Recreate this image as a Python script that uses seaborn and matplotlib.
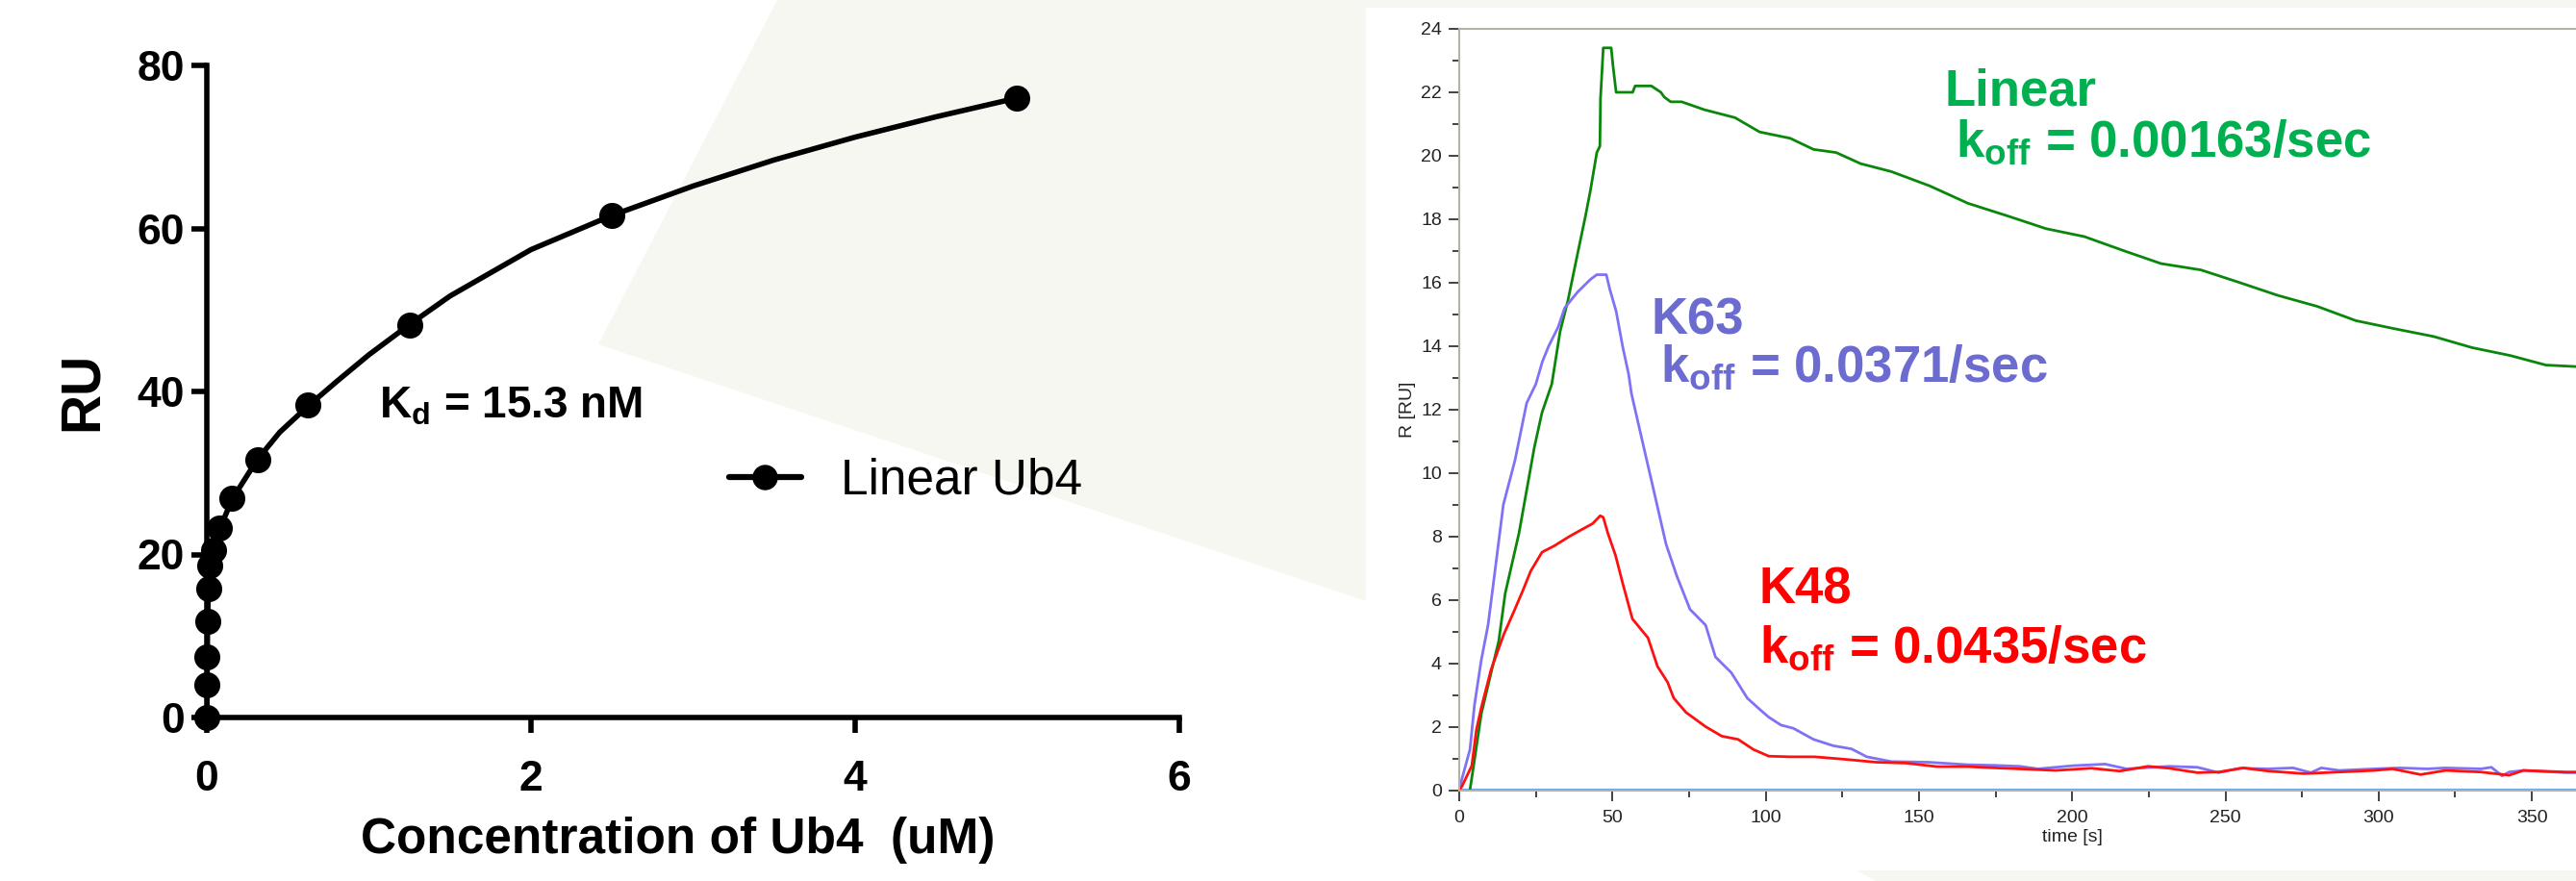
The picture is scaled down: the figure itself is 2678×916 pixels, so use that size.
#!/usr/bin/env python3

"""Ub4 binding curve (left) and SPR sensorgrams for Linear / K63 / K48 Ub4 (right)."""

import pandas as pd
import seaborn as sns
import matplotlib.pyplot as plt
from matplotlib.lines import Line2D
from matplotlib.patches import Polygon, Rectangle
from matplotlib.ticker import FixedLocator, MultipleLocator, AutoMinorLocator

####################################################################################################
# DATA

# left panel: measured points
conc_um = [5, 2.5, 1.25, 0.625, 0.3125, 0.15625, 0.078125, 0.0390625, 0.01953, 0.00977, 0.00488, 0.00244, 0.00122, 0]
ru_points = [76.0, 61.6, 48.2, 38.3, 31.6, 26.9, 23.2, 20.5, 18.7, 15.8, 11.8, 7.4, 4.0, 0.0]

fit_um = [0, 0.005, 0.01, 0.02, 0.04, 0.08, 0.16, 0.31, 0.45, 0.63, 0.8, 1.0, 1.25, 1.5, 2.0, 2.5, 3.0, 3.5, 4.0, 4.5, 5.0]
fit_ru = [0, 12.0, 16.0, 19.0, 21.0, 23.2, 26.9, 31.6, 35.0, 38.3, 41.2, 44.5, 48.2, 51.7, 57.4, 61.6, 65.2, 68.4, 71.2, 73.7, 76.0]

# right panel: sensorgrams
t_linear = [3.5, 4.7, 7.2, 10.4, 12.9, 15, 19.5, 24.5, 27, 30.2, 32.9, 35.5, 38.6, 41.2, 42.8, 44.9, 45.9, 46.1, 47,
            49.6, 50.1, 51.2, 56.6, 57.4, 62.7, 65.8, 66.9, 69, 72.6, 80, 90, 98, 108, 115.6, 123, 131, 141, 153.5,
            166, 179, 191.5, 204, 217, 229, 242, 254.7, 267, 280, 292.6, 305, 318, 330.5, 343, 354.6, 365]
r_linear = [0, 0.77, 2.4, 3.7, 4.7, 6.2, 8.1, 10.8, 11.9, 12.8, 14.45, 15.45, 16.9, 18.1, 18.9, 20.1, 20.3, 21.8, 23.4,
            23.4, 22.9, 22.0, 22.0, 22.2, 22.2, 22.0, 21.85, 21.7, 21.7, 21.45, 21.2, 20.75, 20.55, 20.2, 20.1, 19.75,
            19.5, 19.05, 18.5, 18.1, 17.7, 17.45, 17.0, 16.6, 16.4, 16.0, 15.6, 15.25, 14.8, 14.55, 14.3, 13.95, 13.7,
            13.4, 13.35]

t_k63 = [0, 0.9, 3.5, 5, 7.2, 9.4, 11, 14.4, 18.2, 22, 25, 27.1, 29.2, 32.3, 34.4, 38.6, 42.8, 44.9, 48, 49.1, 51.2,
         53.3, 55.3, 56.2, 60, 63.7, 67.5, 71, 75.3, 80.4, 83.6, 88.8, 94, 98, 101, 105, 109, 115.6, 122, 128, 133,
         141, 153, 166, 175, 183, 188.8, 200.4, 210.8, 217.7, 231.6, 240.9, 247.8, 254.8, 264, 272.1, 277.9, 281.3,
         287.1, 298.7, 306.8, 316, 321.8, 333.4, 336.8, 340.3, 342.6, 347.3, 361.1, 365]
r_k63 = [0, 0.36, 1.28, 2.7, 4.1, 5.2, 6.4, 9.0, 10.4, 12.2, 12.8, 13.5, 14.0, 14.6, 15.2, 15.7, 16.1, 16.25, 16.25,
         15.8, 15.1, 14.0, 13.1, 12.5, 10.9, 9.35, 7.75, 6.75, 5.7, 5.2, 4.2, 3.7, 2.9, 2.55, 2.3, 2.05, 1.95, 1.6,
         1.4, 1.3, 1.05, 0.9, 0.88, 0.8, 0.78, 0.75, 0.67, 0.77, 0.82, 0.67, 0.75, 0.72, 0.55, 0.69, 0.67, 0.70, 0.55,
         0.70, 0.62, 0.67, 0.70, 0.67, 0.70, 0.67, 0.72, 0.45, 0.57, 0.62, 0.55, 0.55]

t_k48 = [0, 0.9, 4.1, 5.6, 7.2, 10.4, 14.5, 17.7, 20.8, 23.3, 27, 31, 36, 39.7, 43.5, 46, 47, 48.5, 51, 53.4, 56.5,
         61.6, 64.7, 68, 70, 74, 80.4, 85.7, 91, 96, 101, 108, 116, 126, 136, 146, 156, 166, 175, 183, 194.6, 206.2,
         215.5, 224.8, 231.6, 240.9, 247.8, 255.9, 264, 275.6, 287.1, 298.7, 304.5, 313.7, 321.8, 333.4, 342.6,
         347.3, 361.1, 365]
r_k48 = [0, 0.12, 0.77, 1.9, 2.6, 3.8, 4.9, 5.6, 6.3, 6.9, 7.5, 7.7, 8.0, 8.2, 8.4, 8.65, 8.6, 8.1, 7.4, 6.5, 5.4,
         4.8, 3.9, 3.4, 2.9, 2.45, 2.0, 1.7, 1.6, 1.28, 1.07, 1.05, 1.05, 0.97, 0.88, 0.85, 0.74, 0.74, 0.70, 0.67,
         0.62, 0.69, 0.60, 0.75, 0.69, 0.55, 0.57, 0.70, 0.60, 0.52, 0.57, 0.62, 0.67, 0.49, 0.62, 0.57, 0.47, 0.62,
         0.57, 0.57]

t_base = [0, 365]
r_base = [0, 0]

####################################################################################################

sns.set_style("ticks")
plt.rcParams['font.family'] = ['Liberation Sans', 'DejaVu Sans']
plt.rcParams['mathtext.fontset'] = 'custom'
plt.rcParams['mathtext.rm'] = 'Liberation Sans'
plt.rcParams['mathtext.bf'] = 'Liberation Sans:bold'
plt.rcParams['text.color'] = 'black'
plt.rcParams['xtick.color'] = 'black'
plt.rcParams['ytick.color'] = 'black'

W, H = 2678, 916
fig = plt.figure(figsize=(W / 100, H / 100), dpi=100)
fig.patch.set_facecolor("white")


def px(x, y):
    """pixel position (from top-left) to figure fraction"""
    return (x / W, 1 - y / H)


# background decoration: light wedge and white panel behind the sensorgram
wedge = Polygon([px(808, 0), px(W, 0), px(W, H), px(1950, H), px(1420, 625), px(622, 358)],
                closed=True, transform=fig.transFigure, facecolor="#f7f7f2", edgecolor="none", zorder=-2)
fig.patches.append(wedge)
panel = Rectangle(px(1420, 905), (W - 1420) / W, (905 - 8) / H, transform=fig.transFigure,
                  facecolor="white", edgecolor="none", zorder=-1)
fig.patches.append(panel)

# ---------------- LEFT PANEL ----------------
ax1 = fig.add_axes([215 / W, 1 - 746 / H, (1226 - 215) / W, (746 - 68) / H])
ax1.patch.set_alpha(0)

pts = pd.DataFrame({"conc": conc_um, "RU": ru_points})
fit = pd.DataFrame({"conc": fit_um, "RU": fit_ru})

sns.lineplot(data=fit, x="conc", y="RU", ax=ax1, color="black", linewidth=4, estimator=None, sort=False)
sns.scatterplot(data=pts, x="conc", y="RU", ax=ax1, color="black", s=380, edgecolor="black",
                linewidth=0, clip_on=False, zorder=5)

ax1.set_xlim(0, 6)
ax1.set_ylim(0, 80)
ax1.set_xticks([0, 2, 4, 6])
ax1.set_yticks([0, 20, 40, 60, 80])
sns.despine(ax=ax1)
for s in ["left", "bottom"]:
    ax1.spines[s].set_linewidth(4)
    ax1.spines[s].set_color("black")
ax1.tick_params(axis="both", direction="out", length=11.5, width=4, labelsize=32,
                color="black", labelcolor="black")
ax1.tick_params(axis="x", pad=20)
ax1.tick_params(axis="y", pad=5)
for lab in ax1.get_xticklabels() + ax1.get_yticklabels():
    lab.set_fontweight("bold")
ax1.set_xlabel("")
ax1.set_ylabel("")
fig.text(705 / W, 1 - 874 / H, "Concentration of Ub4  (uM)", ha="center", va="center",
         fontsize=37, fontweight="bold")
fig.text(86 / W, 1 - 407 / H, "RU", ha="center", va="center", rotation=90, fontsize=41, fontweight="bold")

ax1.text(1.06, 36.7, r"$\mathbf{K_d}$ = 15.3 nM", fontsize=33, fontweight="bold", va="baseline")

handle = Line2D([], [], color="black", linewidth=4.5, marker="o", markersize=18)
fig.legend(handles=[handle], labels=["Linear Ub4"], loc="center left", bbox_to_anchor=px(758, 500),
           frameon=False, borderpad=0, borderaxespad=0, handlelength=1.45, handletextpad=0.8,
           fontsize=37, numpoints=1)

# ---------------- RIGHT PANEL ----------------
ax2 = fig.add_axes([1517 / W, 1 - 821.5 / H, 400 * 3.186 / W, (821.5 - 30) / H])
ax2.set_facecolor("white")

curves = pd.concat([
    pd.DataFrame({"time": t_linear, "R": r_linear, "chain": "Linear"}),
    pd.DataFrame({"time": t_k63, "R": r_k63, "chain": "K63"}),
    pd.DataFrame({"time": t_k48, "R": r_k48, "chain": "K48"}),
], ignore_index=True)
line_colors = {"Linear": "#0a870a", "K63": "#7f72f4", "K48": "#ff1010"}

sns.lineplot(data=pd.DataFrame({"time": t_base, "R": r_base}), x="time", y="R", ax=ax2,
             color="#72a2e6", linewidth=3, estimator=None)
sns.lineplot(data=curves, x="time", y="R", hue="chain", palette=line_colors, ax=ax2,
             linewidth=2, estimator=None, sort=False, legend=False)

ax2.set_xlim(0, 400)
ax2.set_ylim(0, 24)
ax2.xaxis.set_major_locator(FixedLocator([0, 50, 100, 150, 200, 250, 300, 350]))
ax2.xaxis.set_minor_locator(FixedLocator([25, 75, 125, 175, 225, 275, 325, 375]))
ax2.yaxis.set_major_locator(MultipleLocator(2))
ax2.yaxis.set_minor_locator(AutoMinorLocator(2))
for s in ["left", "top", "bottom", "right"]:
    ax2.spines[s].set_color("#b4b2a8")
    ax2.spines[s].set_linewidth(1.5)
ax2.tick_params(axis="both", which="major", direction="out", length=8, width=1.2, color="#222222",
                labelsize=14, labelcolor="#222222")
ax2.tick_params(axis="both", which="minor", direction="out", length=5, width=1.2, color="#222222")
ax2.tick_params(axis="x", pad=7)
ax2.tick_params(axis="y", pad=5)
ax2.set_xlabel("time [s]", fontsize=14, color="#222222", labelpad=2)
ax2.set_ylabel("R [RU]", fontsize=14, color="#222222", labelpad=4)

ann_green, ann_blue, ann_red = "#00b050", "#6b6bd0", "#ff0000"
ax2.text(158.2, 21.6, "Linear", color=ann_green, fontsize=38, fontweight="bold", va="baseline")
ax2.text(162, 19.97, r"$\mathbf{k_{off}}$ = 0.00163/sec", color=ann_green, fontsize=38,
         fontweight="bold", va="baseline")
ax2.text(62.5, 14.36, "K63", color=ann_blue, fontsize=38, fontweight="bold", va="baseline")
ax2.text(65.6, 12.87, r"$\mathbf{k_{off}}$ = 0.0371/sec", color=ann_blue, fontsize=38,
         fontweight="bold", va="baseline")
ax2.text(97.9, 5.87, "K48", color=ann_red, fontsize=38, fontweight="bold", va="baseline")
ax2.text(97.9, 4.02, r"$\mathbf{k_{off}}$ = 0.0435/sec", color=ann_red, fontsize=38,
         fontweight="bold", va="baseline")

plt.savefig("out.png", dpi=100)
